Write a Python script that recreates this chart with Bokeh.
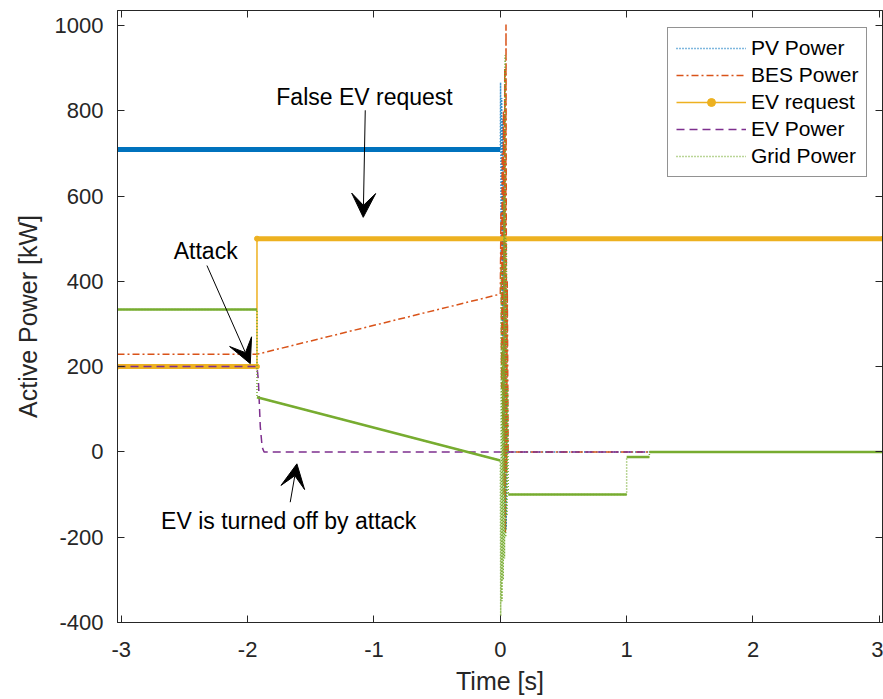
from bokeh.plotting import figure
from bokeh.models import (Range1d, FixedTicker, LinearAxis, Legend, LegendItem,
                          Arrow, VeeHead, Label)
from bokeh.embed import file_html
from bokeh.resources import INLINE

# ---------------- data ----------------
x_ticks = [-3, -2, -1, 0, 1, 2, 3]
x_tick_labels = ["-3", "-2", "-1", "0", "1", "2", "3"]
y_ticks = [-400, -200, 0, 200, 400, 600, 800, 1000]
y_tick_labels = ["-400", "-200", "0", "200", "400", "600", "800", "1000"]

pv_t = [-3.03, 0.0, 0.002, 0.006, 0.011, 0.016, 0.021, 0.026, 0.031, 0.036, 0.041, 0.046, 0.051, 0.06, 3.03]
pv_p = [709, 709, 866, 450, 830, 250, 780, 50, 650, -150, 400, -180, 150, 0, 0]

bes_t = [-3.03, -1.926, 0.0, 0.005, 0.01, 0.015, 0.02, 0.025, 0.03, 0.035, 0.04, 0.045, 0.05, 0.055, 0.062, 3.03]
bes_p = [229, 229, 370, 560, 150, 700, 50, 800, -100, 900, -190, 1002, -50, 400, 0, 0]

evreq_t = [-3.03, -1.926, -1.926, 3.03]
evreq_p = [200, 200, 500, 500]

ev_t = [-3.03, -1.926, -1.915, -1.90, -1.885, -1.87, 3.03]
ev_p = [200, 200, 168, 60, 11, 0, 0]

grid_t = [-3.03, -1.926, -1.926, 0.0, 0.003, 0.008, 0.013, 0.018, 0.023, 0.028, 0.033, 0.038,
          0.043, 0.048, 0.053, 0.058, 0.063, 1.0, 1.0, 1.18, 1.18, 3.03]
grid_p = [334, 334, 128, -20, -385, 440, -350, 250, -300, 600, -250, 930, -200, 500, -150, 150,
          -100, -100, -12, -12, 0, 0]

series_names = ["PV Power", "BES Power", "EV request", "EV Power", "Grid Power"]
colors = ["#0072BD", "#D95319", "#EDB120", "#7E2F8E", "#77AC30"]

FONT = "Liberation Sans"
AX = "#262626"

p = figure(width=883, height=699, output_backend="svg", toolbar_location=None,
           x_range=Range1d(-3.03, 3.025), y_range=Range1d(-400, 1035),
           min_border_left=117, min_border_right=1, min_border_top=10, min_border_bottom=77)
p.xgrid.visible = False
p.ygrid.visible = False
p.outline_line_color = AX
p.outline_line_width = 1
p.background_fill_color = "white"
p.border_fill_color = "white"

for ax, ticks, labels in ((p.xaxis[0], x_ticks, x_tick_labels), (p.yaxis[0], y_ticks, y_tick_labels)):
    ax.ticker = FixedTicker(ticks=ticks)
    ax.major_label_overrides = {t: l for t, l in zip(ticks, labels)}
    ax.minor_tick_line_color = None
    ax.major_tick_in = 7
    ax.major_tick_out = 0
    ax.axis_line_color = AX
    ax.major_tick_line_color = AX
    ax.major_label_text_color = AX
    ax.major_label_text_font = FONT
    ax.major_label_text_font_size = "22px"
    ax.axis_label_text_font = FONT
    ax.axis_label_text_font_style = "normal"
    ax.axis_label_text_color = AX
    ax.axis_label_text_font_size = "25px"

p.xaxis[0].axis_label = "Time [s]"
p.yaxis[0].axis_label = "Active Power [kW]"
p.xaxis[0].major_label_standoff = 19
p.xaxis[0].axis_label_standoff = 7
p.yaxis[0].major_label_standoff = 14
p.yaxis[0].axis_label_standoff = 10

# box ticks on top/right (no labels)
top_ax = LinearAxis(ticker=FixedTicker(ticks=x_ticks), major_tick_in=7, major_tick_out=0,
                    minor_tick_line_color=None, major_label_standoff=0,
                    major_label_overrides={t: "" for t in x_ticks},
                    axis_line_color=AX, major_tick_line_color=AX)
right_ax = LinearAxis(ticker=FixedTicker(ticks=y_ticks), major_tick_in=7, major_tick_out=0,
                      minor_tick_line_color=None, major_label_standoff=0,
                      major_label_overrides={t: "" for t in y_ticks},
                      axis_line_color=AX, major_tick_line_color=AX)
p.add_layout(top_ax, "above")
p.add_layout(right_ax, "right")

# ---------------- series ----------------
# PV
pv_r = p.line(pv_t, pv_p, color=colors[0], line_width=1.5, line_dash="1 2")
p.segment(x0=[pv_t[0]], y0=[pv_p[0]], x1=[pv_t[1]], y1=[pv_p[1]], color=colors[0], line_width=5)

# BES
bes_r = p.line(bes_t, bes_p, color=colors[1], line_width=1.5, line_dash="7 3 2 3")

# EV request
evreq_dot = p.scatter(x=evreq_t, y=evreq_p, marker="circle", size=5, color=colors[2])
evreq_r = p.line(evreq_t, evreq_p, color=colors[2], line_width=1.5)
p.segment(x0=evreq_t[0::2], y0=evreq_p[0::2], x1=evreq_t[1::2], y1=evreq_p[1::2],
          color=colors[2], line_width=5)

# EV power
ev_r = p.line(ev_t, ev_p, color=colors[3], line_width=1.5, line_dash="8 5")

# Grid
grid_r = p.line(grid_t, grid_p, color=colors[4], line_width=1.5, line_dash="1 2")
seg_idx = [(0, 1), (2, 3), (16, 17), (18, 19), (20, 21)]
p.segment(x0=[grid_t[a] for a, b in seg_idx], y0=[grid_p[a] for a, b in seg_idx],
          x1=[grid_t[b] for a, b in seg_idx], y1=[grid_p[b] for a, b in seg_idx],
          color=colors[4], line_width=2.5)

# ---------------- annotations ----------------
def lab(x, y, t):
    p.add_layout(Label(x=x, y=y, text=t, text_font=FONT, text_font_size="23px",
                       text_align="center", text_baseline="middle", text_color="black"))

def arr(x0, y0, x1, y1):
    p.add_layout(Arrow(end=VeeHead(size=24, fill_color="black", line_color="black", line_width=1),
                       x_start=x0, y_start=y0, x_end=x1, y_end=y1,
                       line_color="black", line_width=1))

lab(-1.075, 833, "False EV request")
arr(-1.069, 801, -1.085, 550)
lab(-2.332, 472, "Attack")
arr(-2.322, 437, -1.979, 207)
lab(-1.675, -161, "EV is turned off by attack")
arr(-1.663, -118, -1.61, -28)

# ---------------- legend ----------------
legend = Legend(items=[
    LegendItem(label=series_names[0], renderers=[pv_r]),
    LegendItem(label=series_names[1], renderers=[bes_r]),
    LegendItem(label=series_names[2], renderers=[evreq_r, evreq_dot]),
    LegendItem(label=series_names[3], renderers=[ev_r]),
    LegendItem(label=series_names[4], renderers=[grid_r]),
], location=(550, 445))
legend.label_text_font = FONT
legend.label_text_font_size = "21px"
legend.label_text_color = "black"
legend.glyph_width = 70
legend.glyph_height = 20
legend.label_height = 20
legend.label_standoff = 5
legend.spacing = 3
legend.padding = 8
legend.margin = 0
legend.border_line_color = AX
legend.border_line_width = 1
legend.background_fill_alpha = 1
p.add_layout(legend)

open("out.html", "w").write(file_html(p, INLINE))
